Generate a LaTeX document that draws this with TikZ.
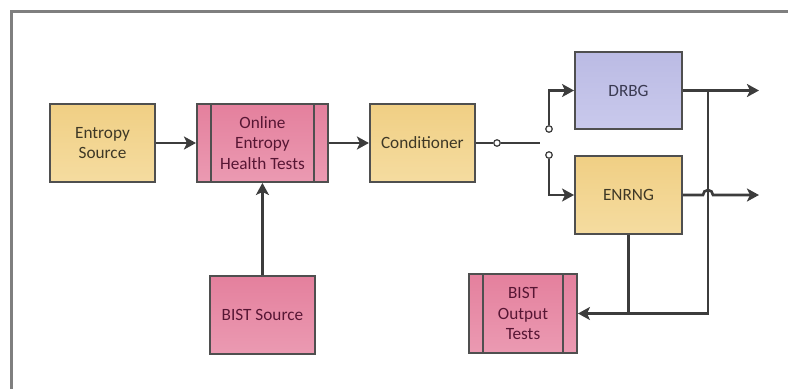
\documentclass[tikz,border=0pt]{standalone}
\usepackage{fontspec}
\setmainfont{Carlito}
\usetikzlibrary{positioning,arrows.meta,calc}
\definecolor{amarillo}{HTML}{F0CF84}
\definecolor{amarilloc}{HTML}{F5DCA0}
\definecolor{rosa}{HTML}{E4809D}
\definecolor{rosac}{HTML}{EB9AB2}
\definecolor{lila}{HTML}{BBBBE4}
\definecolor{lilac}{HTML}{C9C9EC}
\definecolor{borde}{HTML}{4F4F4F}
\definecolor{marco}{HTML}{7F7F7F}
\definecolor{linea}{HTML}{3C3C3C}
\definecolor{txtam}{HTML}{3E3826}
\definecolor{txtrosa}{HTML}{571634}
\definecolor{txtlila}{HTML}{3A3A52}

\begin{document}
\begin{tikzpicture}[font=\fontsize{9.8}{11.6}\selectfont, >={Stealth[length=2.4mm,width=2.6mm,inset=0.6mm]},
      caja/.style={draw=borde, line width=1.1pt, minimum width=2.1cm, minimum height=1.56cm,
                   align=center, inner sep=1pt},
      cajaam/.style={caja, top color=amarillo, bottom color=amarilloc, text=txtam},
      cajarosa/.style={caja, top color=rosa, bottom color=rosac, text=txtrosa},
      cajalila/.style={caja, top color=lila, bottom color=lilac, text=txtlila},
      proceso/.style={path picture={
          \draw[borde, line width=1.1pt]
            ([xshift=0.28cm]path picture bounding box.north west) -- ([xshift=0.28cm]path picture bounding box.south west)
            ([xshift=-0.28cm]path picture bounding box.north east) -- ([xshift=-0.28cm]path picture bounding box.south east);}},
      flujo/.style={->, linea, line width=1.5pt},
      hilo/.style={linea, line width=0.8pt},
      borne/.style={circle, draw=linea, fill=white, line width=0.7pt, inner sep=0pt, minimum size=1.3mm}]
    \useasboundingbox (0,0) rectangle (15.76,-7.76);
    \draw[marco, line width=1.7pt] (0.23,-7.8) |- (15.8,-0.23);

    \node[cajaam] (ent) at (2.05,-2.86) {Entropy\\Source};
    \node[cajarosa, proceso, minimum width=2.62cm, right=0.8cm of ent] (onl) {Online\\Entropy\\Health Tests};
    \node[cajaam, right=0.8cm of onl] (cond) {Conditioner};
    \node[cajarosa, below=1.84cm of onl] (bsrc) {BIST Source};
    \node[cajalila, minimum width=2.14cm, minimum height=1.54cm] (drbg) at (12.57,-1.81) {DRBG};
    \node[cajaam, minimum width=2.14cm] (enrng) at (12.57,-3.9) {ENRNG};
    \node[cajarosa, proceso, minimum width=2.16cm, minimum height=1.58cm] (bout) at (10.46,-6.27) {BIST\\Output\\Tests};

    % conmutador entre DRBG y ENRNG
    \node[borne] (c0) at (9.94,-2.86) {};
    \coordinate (c0b) at (10.8,-2.86);
    \node[borne] (c1) at (10.98,-2.58) {};
    \node[borne] (c2) at (10.98,-3.1) {};

    \coordinate[right=0.5cm of drbg.east] (tap);
    \coordinate[right=1.52cm of drbg.east] (outD);
    \coordinate[right=1.52cm of enrng.east] (outE);

    \draw[flujo] (ent) -- (onl);
    \draw[flujo] (onl) -- (cond);
    \draw[flujo] (bsrc) -- (onl);
    \draw[hilo, line width=1.5pt] (cond.east) -- (c0.west);
    \draw[hilo] (c0.east) -- (c0b);
    \draw[flujo] (c1.north) |- (drbg.west);
    \draw[flujo] (c2.south) |- (enrng.west);
    \draw[flujo] (drbg.east) -- (outD);
    \draw[flujo] (enrng.east) -- ($(tap |- enrng.east)+(-0.1,0)$) arc (180:0:0.1) -- (outE);
    \draw[flujo] (tap) |- (bout.east);
    \draw[linea, line width=1.5pt] (enrng.south) -- (enrng.south |- bout.east);
  \end{tikzpicture}
\end{document}
